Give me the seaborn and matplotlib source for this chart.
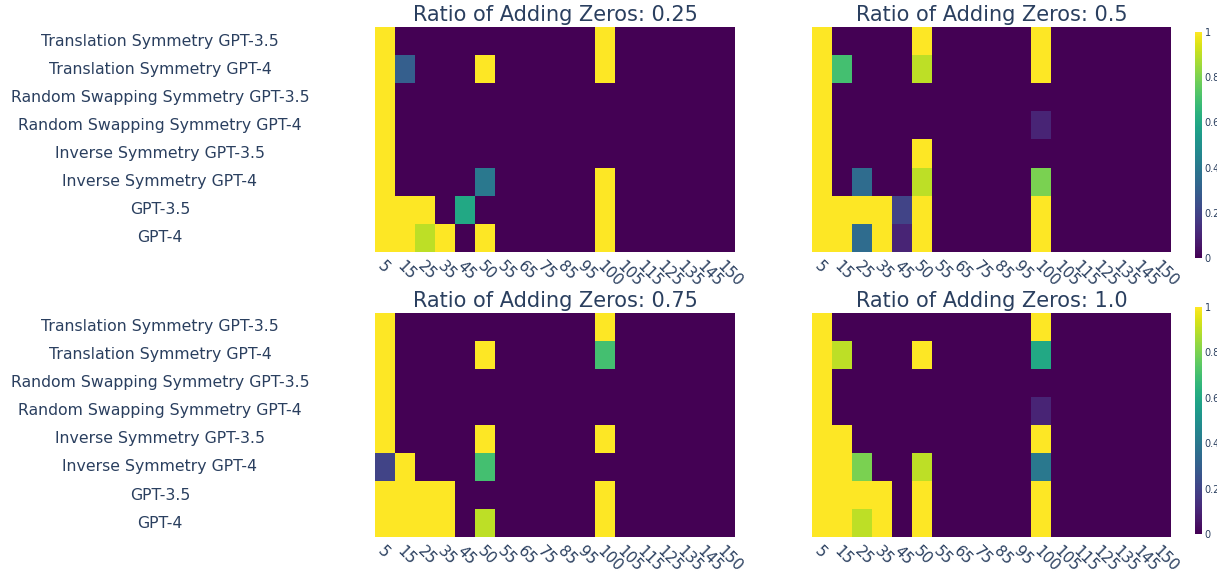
import numpy as np
import pandas as pd
import seaborn as sns
import matplotlib.pyplot as plt

rows = ['Translation Symmetry GPT-3.5', 'Translation Symmetry GPT-4',
        'Random Swapping Symmetry GPT-3.5', 'Random Swapping Symmetry GPT-4',
        'Inverse Symmetry GPT-3.5', 'Inverse Symmetry GPT-4',
        'GPT-3.5', 'GPT-4']
lengths = [5, 15, 25, 35, 45, 50, 55, 65, 75, 85, 95, 100, 105, 115, 125, 135, 145, 150]
ratios = ['0.25', '0.5', '0.75', '1.0']

# non-zero cells per ratio: (row, length) -> value, everything else is 0
cells_025 = {(0, 5): 1, (0, 100): 1,
             (1, 5): 1, (1, 15): 0.3, (1, 50): 1, (1, 100): 1,
             (2, 5): 1, (3, 5): 1, (4, 5): 1,
             (5, 5): 1, (5, 50): 0.4, (5, 100): 1,
             (6, 5): 1, (6, 15): 1, (6, 25): 1, (6, 45): 0.6, (6, 100): 1,
             (7, 5): 1, (7, 15): 1, (7, 25): 0.9, (7, 35): 1, (7, 50): 1, (7, 100): 1}
cells_05 = {(0, 5): 1, (0, 50): 1, (0, 100): 1,
            (1, 5): 1, (1, 15): 0.7, (1, 50): 0.9, (1, 100): 1,
            (2, 5): 1,
            (3, 5): 1, (3, 100): 0.1,
            (4, 5): 1, (4, 50): 1,
            (5, 5): 1, (5, 25): 0.35, (5, 50): 0.9, (5, 100): 0.8,
            (6, 5): 1, (6, 15): 1, (6, 25): 1, (6, 35): 1, (6, 45): 0.2, (6, 50): 1, (6, 100): 1,
            (7, 5): 1, (7, 15): 1, (7, 25): 0.35, (7, 35): 1, (7, 45): 0.1, (7, 50): 1, (7, 100): 1}
cells_075 = {(0, 5): 1, (0, 100): 1,
             (1, 5): 1, (1, 50): 1, (1, 100): 0.7,
             (2, 5): 1, (3, 5): 1,
             (4, 5): 1, (4, 50): 1, (4, 100): 1,
             (5, 5): 0.2, (5, 15): 1, (5, 50): 0.7,
             (6, 5): 1, (6, 15): 1, (6, 25): 1, (6, 35): 1, (6, 100): 1,
             (7, 5): 1, (7, 15): 1, (7, 25): 1, (7, 35): 1, (7, 50): 0.9, (7, 100): 1}
cells_10 = {(0, 5): 1, (0, 100): 1,
            (1, 5): 1, (1, 15): 0.9, (1, 50): 1, (1, 100): 0.6,
            (2, 5): 1,
            (3, 5): 1, (3, 100): 0.1,
            (4, 5): 1, (4, 15): 1, (4, 100): 1,
            (5, 5): 1, (5, 15): 1, (5, 25): 0.8, (5, 50): 0.9, (5, 100): 0.4,
            (6, 5): 1, (6, 15): 1, (6, 25): 1, (6, 35): 1, (6, 50): 1, (6, 100): 1,
            (7, 5): 1, (7, 15): 1, (7, 25): 0.9, (7, 35): 1, (7, 50): 1, (7, 100): 1}


def to_frame(cells):
    df = pd.DataFrame(0.0, index=rows, columns=lengths)
    for (r, l), v in cells.items():
        df.loc[rows[r], l] = v
    return df


frames = [to_frame(c) for c in [cells_025, cells_05, cells_075, cells_10]]

txt = '#2a3f5f'
plt.rcParams['font.family'] = ['DejaVu Sans']
fig = plt.figure(figsize=(12.17, 5.74), dpi=100)

# panel and colorbar boxes in pixels (left, top, width, height)
W, H = 1217, 574
boxes = [(375, 27, 360, 225), (812, 27, 359, 225),
         (375, 313, 360, 224), (812, 313, 359, 224)]
cbar_boxes = [(1195, 32, 7, 226), (1195, 307, 7, 227)]

for i, (df, ratio) in enumerate(zip(frames, ratios)):
    x0, y0, w, h = boxes[i]
    ax = fig.add_axes([x0 / W, 1 - (y0 + h) / H, w / W, h / H])
    right = i % 2 == 1
    cax = None
    if right:
        cx, cy, cw, ch = cbar_boxes[i // 2]
        cax = fig.add_axes([cx / W, 1 - (cy + ch) / H, cw / W, ch / H])
    sns.heatmap(df, ax=ax, cmap='viridis', vmin=0, vmax=1,
                cbar=right, cbar_ax=cax, linewidths=0)
    ax.set_title(f'Ratio of Adding Zeros: {ratio}', fontsize=15, color=txt, pad=4)
    ax.set_xticks(np.arange(len(lengths)) + 0.5)
    ax.set_xticklabels([str(l) for l in lengths], rotation=-45, ha='left',
                       rotation_mode='anchor', fontsize=11, color=txt)
    ax.tick_params(axis='x', length=0, pad=5)
    if right:
        ax.set_yticks([])
        cax.tick_params(length=0, labelsize=7, labelcolor=txt, pad=2)
        cax.set_yticks([0, 0.2, 0.4, 0.6, 0.8, 1])
        cax.set_yticklabels(['0', '0.2', '0.4', '0.6', '0.8', '1'])
        for s in cax.spines.values():
            s.set_visible(False)
    else:
        ax.set_yticks(np.arange(len(rows)) + 0.5)
        ax.set_yticklabels(rows, rotation=0, ha='center', fontsize=11.3, color=txt)
        ax.tick_params(axis='y', length=0, pad=215 * 0.72)
    ax.set_xlabel('')
    ax.set_ylabel('')

fig.savefig('out.png', dpi=100)
